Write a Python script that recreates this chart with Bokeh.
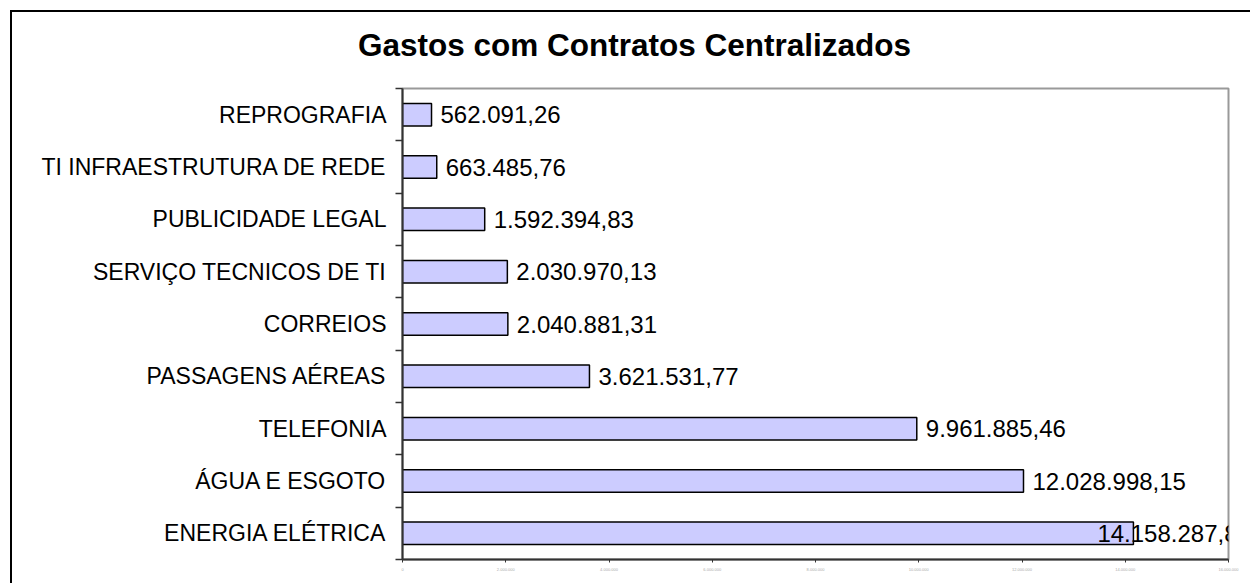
from bokeh.plotting import figure
from bokeh.models import Range1d, FixedTicker, ColumnDataSource, LabelSet, Div
from bokeh.layouts import column
from bokeh.core.properties import value
from bokeh.embed import file_html
from bokeh.resources import INLINE

# ---- data (bottom to top) ----
categories = ["ENERGIA ELÉTRICA", "ÁGUA E ESGOTO", "TELEFONIA", "PASSAGENS AÉREAS",
              "CORREIOS", "SERVIÇO TECNICOS DE TI", "PUBLICIDADE LEGAL",
              "TI INFRAESTRUTURA DE REDE", "REPROGRAFIA"]
values = [14158287.87, 12028998.15, 9961885.46, 3621531.77, 2040881.31,
          2030970.13, 1592394.83, 663485.76, 562091.26]
x_ticks = [0, 2000000, 4000000, 6000000, 8000000, 10000000, 12000000, 14000000, 16000000]
x_tick_labels = ["0", "2.000.000", "4.000.000", "6.000.000", "8.000.000",
                 "10.000.000", "12.000.000", "14.000.000", "16.000.000"]
title_text = "Gastos com Contratos Centralizados"


def fmt_br(v):
    s = f"{v:,.2f}"
    return s.replace(",", "X").replace(".", ",").replace("X", ".")


n = len(categories)
ypos = [i + 0.5 for i in range(n)]
labels = [fmt_br(v) for v in values]
vmax = max(values)
offsets = [-36 if v == vmax else 9 for v in values]

src = ColumnDataSource(dict(y=ypos, v=values, lbl=labels, off=offsets))

W = 1238
TITLE_H = 64
H = 571 - TITLE_H

title_div = Div(
    text=('<div style="margin:0; padding:18px 0 0 346px; font-family:\'Liberation Sans\', Arial, sans-serif;'
          ' font-weight:bold; font-size:31.5px; line-height:31px; white-space:nowrap; color:black;">'
          + title_text + '</div>'),
    width=W, height=TITLE_H, margin=0,
)

p = figure(width=W, height=H, x_range=Range1d(0, x_ticks[-1]), y_range=Range1d(0, n),
           output_backend="svg", toolbar_location=None, margin=0,
           min_border_left=390, min_border_right=22, min_border_top=76 - TITLE_H,
           min_border_bottom=24)

p.hbar(y="y", left=0, right="v", height=0.43, source=src,
       fill_color="#CCCCFF", line_color="black", line_width=1.5)

p.add_layout(LabelSet(x="v", y="y", text="lbl", x_offset="off", source=src,
                      text_font=value("Liberation Sans"), text_font_size=value("24px"),
                      text_baseline="middle", text_align="left", text_color="black"))

p.xgrid.visible = False
p.ygrid.visible = False
p.background_fill_color = "white"
p.border_fill_color = "white"
p.outline_line_color = "#999999"
p.outline_line_width = 2

# y axis
yax = p.yaxis[0]
yax.ticker = FixedTicker(ticks=ypos, minor_ticks=list(range(n + 1)))
yax.major_label_overrides = {y: c for y, c in zip(ypos, categories)}
yax.major_tick_line_color = None
yax.major_tick_out = 0
yax.major_tick_in = 0
yax.minor_tick_out = 7
yax.minor_tick_in = 0
yax.minor_tick_line_color = "#333333"
yax.minor_tick_line_width = 1.5
yax.axis_line_color = "#333333"
yax.axis_line_width = 2
yax.major_label_standoff = 9
yax.major_label_text_font = "Liberation Sans"
yax.major_label_text_font_size = "23px"
yax.major_label_text_color = "black"

# x axis
xax = p.xaxis[0]
xax.ticker = FixedTicker(ticks=x_ticks)
xax.major_label_overrides = {t: l for t, l in zip(x_ticks, x_tick_labels)}
xax.major_tick_out = 3
xax.major_tick_in = 0
xax.major_tick_line_color = "#333333"
xax.minor_tick_line_color = None
xax.axis_line_color = "#333333"
xax.axis_line_width = 2
xax.major_label_standoff = 5
xax.major_label_text_font = "Liberation Sans"
xax.major_label_text_font_size = "4px"
xax.major_label_text_color = "#aaaaaa"

layout = column(title_div, p, spacing=0,
                styles={"margin-left": "10px", "margin-top": "10px", "background": "white",
                        "border-left": "2px solid black", "border-top": "2px solid black"})

open("out.html", "w").write(file_html(layout, INLINE))
